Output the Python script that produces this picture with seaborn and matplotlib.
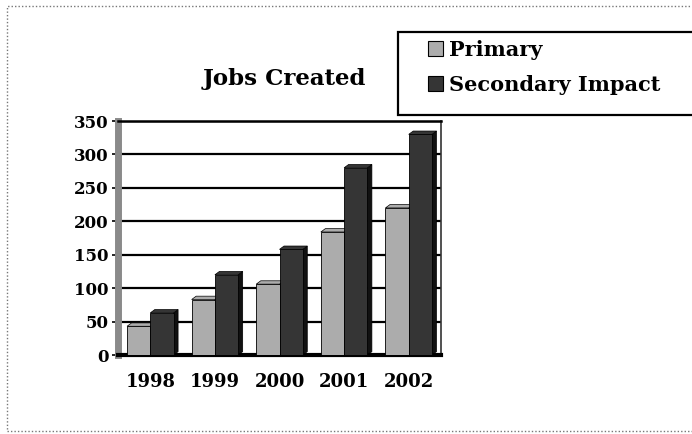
import matplotlib
matplotlib.use("Agg")
import matplotlib.pyplot as plt
import seaborn as sns
import pandas as pd
from matplotlib.patches import Rectangle, Polygon

years = ["1998", "1999", "2000", "2001", "2002"]
primary = [43, 83, 106, 184, 220]
secondary = [63, 120, 158, 280, 330]
series_names = ["Primary", "Secondary Impact"]
y_ticks = [0, 50, 100, 150, 200, 250, 300, 350]

df = pd.DataFrame({
    "Year": years * 2,
    "Jobs": primary + secondary,
    "Series": [series_names[0]] * len(years) + [series_names[1]] * len(years),
})

sns.set_theme(style="white")
plt.rcParams["font.family"] = ["DejaVu Serif"]
plt.rcParams["font.weight"] = "bold"
plt.rcParams["text.color"] = "black"
plt.rcParams["xtick.color"] = "black"
plt.rcParams["ytick.color"] = "black"
plt.rcParams["axes.labelcolor"] = "black"

W, H = 692, 434
fig = plt.figure(figsize=(W / 100, H / 100), dpi=100)
fig.patch.set_facecolor("white")
ax = fig.add_axes([118 / W, 1 - 355 / H, (441 - 118) / W, (355 - 121) / H])

palette = {series_names[0]: "#acacac", series_names[1]: "#353535"}
side = {series_names[0]: "#777777", series_names[1]: "#111111"}
sns.barplot(data=df, x="Year", y="Jobs", hue="Series", palette=palette,
            width=0.72, gap=0, edgecolor="black", linewidth=0.6,
            saturation=1, ax=ax, zorder=3)

ax.set_ylim(0, 350)
ax.set_yticks(y_ticks)
ax.set_yticklabels([str(v) for v in y_ticks])
ax.set_xlim(-0.5, len(years) - 0.5)
ax.set_xlabel("")
ax.set_ylabel("")
ax.grid(False)
for v in y_ticks[1:]:
    ax.axhline(v, color="black", linewidth=1.6, zorder=1)

# pseudo-3D side and top faces on each bar
dx, dy = 0.07, 5
for container, name in zip(ax.containers, series_names):
    for p in container.patches:
        x0, w, h = p.get_x(), p.get_width(), p.get_height()
        x1 = x0 + w
        ax.add_patch(Polygon([(x1, 0), (x1 + dx, dy), (x1 + dx, h + dy), (x1, h)],
                             closed=True, facecolor=side[name], edgecolor="black",
                             linewidth=0.5, zorder=2.5))
        ax.add_patch(Polygon([(x0, h), (x0 + dx, h + dy), (x1 + dx, h + dy), (x1, h)],
                             closed=True, facecolor=palette[name], edgecolor="black",
                             linewidth=0.5, zorder=2.5))

ax.spines["top"].set_color("black")
ax.spines["top"].set_linewidth(1.8)
ax.spines["right"].set_color("#333333")
ax.spines["right"].set_linewidth(1.2)
ax.spines["right"].set_linestyle((0, (1, 1)))
ax.spines["left"].set_color("#8a8a8a")
ax.spines["left"].set_linewidth(5)
ax.spines["bottom"].set_color("black")
ax.spines["bottom"].set_linewidth(3)

ax.tick_params(axis="y", which="both", left=True, length=4, width=1.2,
               color="black", labelcolor="black", labelsize=12, pad=3)
ax.tick_params(axis="x", bottom=False, labelcolor="black", labelsize=13, pad=7)
for lab in ax.get_xticklabels() + ax.get_yticklabels():
    lab.set_fontweight("bold")

leg = ax.get_legend()
if leg is not None:
    leg.remove()

# legend frame (extends past the right edge like the reference)
frame = Rectangle((398 / W, 1 - 115 / H), (W) / W, (115 - 32) / H,
                  transform=fig.transFigure, fill=True, facecolor="white",
                  edgecolor="black", linewidth=1.6, zorder=5)
fig.add_artist(frame)

handles = [Rectangle((0, 0), 1, 1, facecolor=palette[n], edgecolor="black", linewidth=0.8)
           for n in series_names]
fl = fig.legend(handles, series_names, loc="upper left",
                bbox_to_anchor=(428 / W, 1 - 40 / H),
                frameon=False, handlelength=0.72, handleheight=0.72,
                handletextpad=0.3, borderpad=0, borderaxespad=0, labelspacing=0.72,
                prop={"family": ["DejaVu Serif"], "weight": "bold", "size": 15})
for t in fl.get_texts():
    t.set_color("black")
fl.set_zorder(6)

fig.text(284 / W, 1 - 79 / H, "Jobs Created", ha="center", va="center",
         fontsize=16.5, fontweight="bold", family=["DejaVu Serif"], color="black")

border = Rectangle((7 / W, 1 - 431 / H), (W + 20) / W, (431 - 6) / H,
                   transform=fig.transFigure, fill=False, edgecolor="#777777",
                   linewidth=1, linestyle=(0, (1, 1.5)))
fig.add_artist(border)

fig.savefig("out.png", dpi=100)
